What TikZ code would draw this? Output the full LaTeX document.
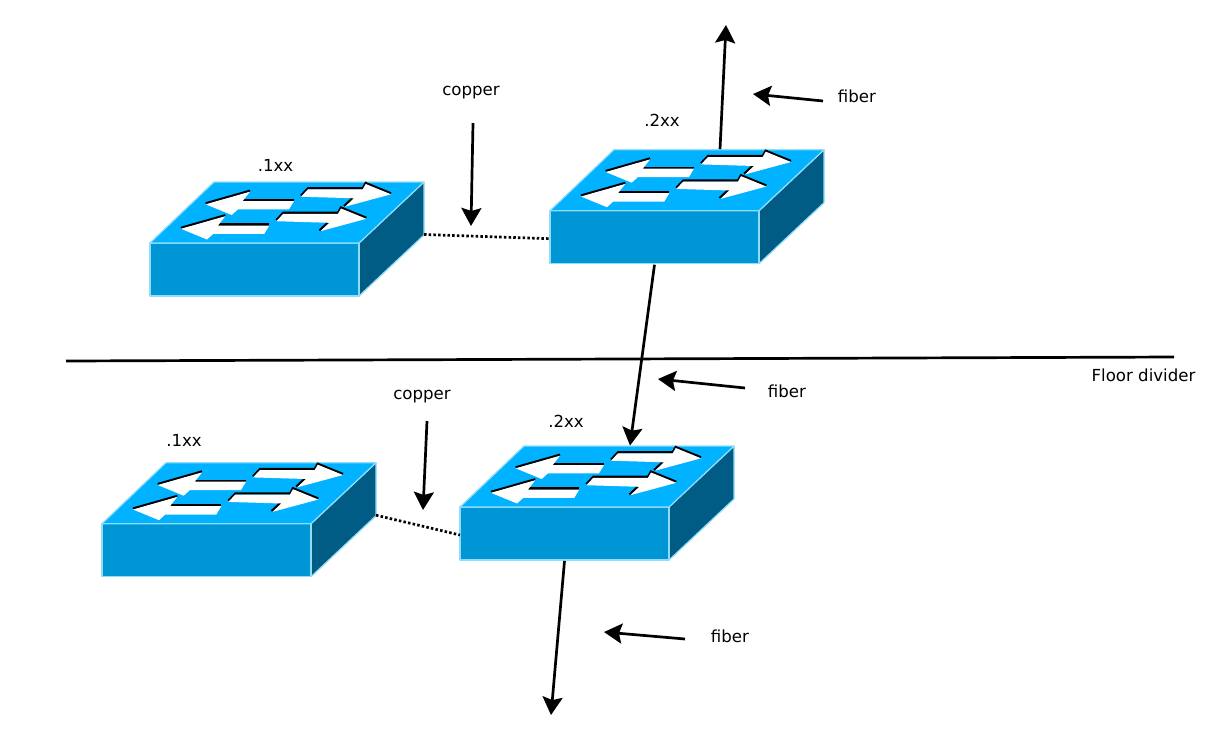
\documentclass[tikz,border=0pt]{standalone}
\usepackage{fontspec}
\setmainfont{DejaVu Sans}
\usetikzlibrary{arrows.meta}
\definecolor{swtop}{HTML}{00B2FF}
\definecolor{swfront}{HTML}{0096D6}
\definecolor{swside}{HTML}{005B85}
\definecolor{swedge}{HTML}{8FDDF8}
\tikzset{
  x=1pt,y=-1pt,
  face/.style={draw=swedge,line width=1.2pt,line join=round},
  flow/.style={fill=white,draw=none},
  flowedge/.style={draw=black,line width=2.2pt},
  link/.style={line width=2.7pt,-{Stealth[length=18pt,width=20pt,inset=3pt]}},
  copperlink/.style={line width=2.7pt,dash pattern=on 2.5pt off 2.2pt},
  divider/.style={line width=2.7pt},
  caption/.style={font=\fontsize{16.6pt}{20pt}\selectfont,inner sep=0pt,text=black},
  % arrow pair on the top face of a switch; the black edges sit just above the white
  arrowpair/.pic={
    \draw[flowedge] (55.7,21.3) -- (100,8.7);
    \draw[flowedge] (92.7,18) -- (144,18);
    \fill[flow] (55.7,22.3) -- (100,9.7) -- (92.7,19) -- (144,19) -- (139,27.3) -- (88,27.3) -- (81.7,33) -- cycle;
    \draw[flowedge] (151,13.7) -- (158,6.3) -- (212.7,6.3) -- (215.7,1) -- (241,11.3);
    \draw[flowedge] (194.2,24) -- (203.2,15.6);
    \fill[flow] (151,14.7) -- (158,7.3) -- (212.7,7.3) -- (215.7,2) -- (241,12.3) -- (195,24.7) -- (204,16.3) -- cycle;
  },
  % isometric network switch; its origin is the top-left of its bounding box
  switchbox/.pic={
    \filldraw[face,fill=swside] (209,61) -- (274,0) -- (274,53) -- (209,114) -- cycle;
    \filldraw[face,fill=swfront] (0,61) rectangle (209,114);
    \filldraw[face,fill=swtop] (0,61) -- (64,0) -- (274,0) -- (209,61) -- cycle;
    \pic at (0,0) {arrowpair};
    \pic at (-24.7,24.5) {arrowpair};
    \coordinate (-east) at (274,52.5);
    \coordinate (-west) at (0,89);
    \coordinate (-south) at (104.5,115);
    \coordinate (-north) at (170,-0.5);
  }
}
\begin{document}
\begin{tikzpicture}
\useasboundingbox (0,0) rectangle (1230,729);

\pic (s1) at (150,182) {switchbox};
\pic (s2) at (550,149.7) {switchbox};
\pic (s3) at (102,462.7) {switchbox};
\pic (s4) at (460,446) {switchbox};

% free ends of the connectors
\coordinate (uplinkend) at (726,25);
\coordinate (downlinkend) at (551,715);
\coordinate (divleft) at (66,361);
\coordinate (divright) at (1174,357);

% labels
\node[caption] (lab1) at (275.5,165) {.1xx};
\node[caption] (lab2) at (662,120.5) {.2xx};
\node[caption] (lab3) at (184,440) {.1xx};
\node[caption] (lab4) at (566,421.5) {.2xx};
\node[caption] (cop1) at (471,93) {copper};
\node[caption] (cop2) at (422,397) {copper};
\node[caption] (fib1) at (857,96.5) {fiber};
\node[caption] (fib2) at (787,391.5) {fiber};
\node[caption] (fib3) at (730,636.5) {fiber};
\node[caption] (floor) at (1143.5,375.5) {Floor divider};

% floor divider
\draw[divider] (divleft) -- (divright);

% cabling between switches
\draw[copperlink] (s1-east) -- (s2-west);
\draw[copperlink] (s3-east) -- (s4-west);
\draw[link] (s2-north) -- (uplinkend);
\draw[link] (s2-south) -- (s4-north);
\draw[link] (s4-south) -- (downlinkend);

% pointers from the labels to the cables
\coordinate (cop1a) at (473,123);
\coordinate (cop1b) at (471,226);
\coordinate (cop2a) at (427,421);
\coordinate (cop2b) at (423,510);
\coordinate (fib1a) at (823,101);
\coordinate (fib1b) at (753,94);
\coordinate (fib2a) at (745,388);
\coordinate (fib2b) at (658,379);
\coordinate (fib3a) at (685,639);
\coordinate (fib3b) at (604,632);
\draw[link] (cop1a) -- (cop1b);
\draw[link] (cop2a) -- (cop2b);
\draw[link] (fib1a) -- (fib1b);
\draw[link] (fib2a) -- (fib2b);
\draw[link] (fib3a) -- (fib3b);
\end{tikzpicture}
\end{document}
